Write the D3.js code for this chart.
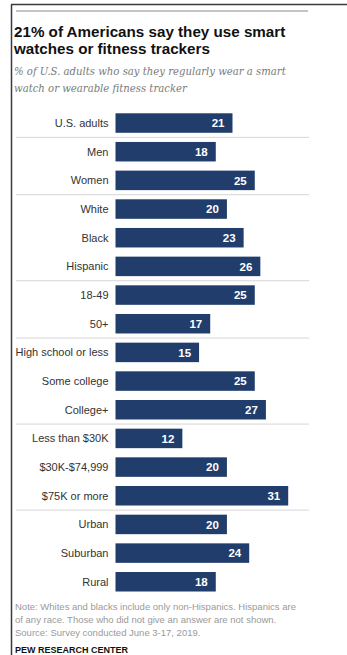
<!DOCTYPE html>
<html>
<head>
<meta charset="utf-8">
<script src="https://cdn.jsdelivr.net/npm/d3@7"></script>
<style>
  html, body { margin: 0; padding: 0; background: #fff; }
  svg { display: block; }
</style>
</head>
<body>
<div id="chart"></div>
<script>
const categories = ['U.S. adults', 'Men', 'Women', 'White', 'Black', 'Hispanic', '18-49', '50+',
  'High school or less', 'Some college', 'College+', 'Less than $30K', '$30K-$74,999',
  '$75K or more', 'Urban', 'Suburban', 'Rural'];
const values = [21, 18, 25, 20, 23, 26, 25, 17, 15, 25, 27, 12, 20, 31, 20, 24, 18];
// a thin rule is drawn above each of these
const groupStarts = ['Men', 'White', '18-49', 'High school or less', 'Less than $30K', 'Urban'];

const titleLines = ['21% of Americans say they use smart', 'watches or fitness trackers'];
const subtitleLines = ['% of U.S. adults who say they regularly wear a smart',
  'watch or wearable fitness tracker'];
const noteLines = ['Note: Whites and blacks include only non-Hispanics. Hispanics are',
  'of any race. Those who did not give an answer are not shown.',
  'Source: Survey conducted June 3-17, 2019.'];

const width = 347, height = 655;
const svg = d3.select('#chart').append('svg')
  .attr('width', width)
  .attr('height', height);

// frame
svg.append('line').attr('x1', 11.5).attr('x2', 11.5).attr('y1', 4.5).attr('y2', height)
  .attr('stroke', '#3a3a40').attr('stroke-width', 1.5);
svg.append('line').attr('x1', 11).attr('x2', width).attr('y1', 4.5).attr('y2', 4.5)
  .attr('stroke', '#3a3a40').attr('stroke-width', 1.5);
svg.append('line').attr('x1', 16).attr('x2', 308).attr('y1', 11).attr('y2', 11)
  .attr('stroke', '#8a8a8a').attr('stroke-width', 1);

svg.append('g').selectAll('text')
  .data(titleLines)
  .enter().append('text')
  .attr('x', 14)
  .attr('y', (d, i) => 37 + i * 17)
  .attr('font-family', 'Liberation Sans, Arial, sans-serif')
  .attr('font-weight', 'bold')
  .attr('font-size', 15.2)
  .attr('fill', '#111')
  .text(d => d);

svg.append('g').selectAll('text')
  .data(subtitleLines)
  .enter().append('text')
  .attr('x', 14)
  .attr('y', (d, i) => 75 + i * 17)
  .attr('font-family', 'DejaVu Serif, Georgia, serif')
  .attr('font-style', 'italic')
  .attr('font-size', 10.1)
  .attr('fill', '#7a7a7a')
  .text(d => d);

const y = d3.scaleBand()
  .domain(categories)
  .range([108.7, 596.1])
  .paddingInner(0.32)
  .paddingOuter(0.16);

const x = d3.scaleLinear()
  .domain([0, 31])
  .range([115.5, 288.2]);

const step = y.step();
svg.append('g').selectAll('line')
  .data(groupStarts)
  .enter().append('line')
  .attr('x1', 16).attr('x2', 309)
  .attr('y1', d => y(d) - step * 0.16)
  .attr('y2', d => y(d) - step * 0.16)
  .attr('stroke', '#d6d6d6')
  .attr('stroke-width', 1);

const rows = categories.map((c, i) => ({cat: c, val: values[i]}));

svg.append('g').selectAll('rect')
  .data(rows)
  .enter().append('rect')
  .attr('x', x(0))
  .attr('y', d => y(d.cat))
  .attr('width', d => x(d.val) - x(0))
  .attr('height', y.bandwidth())
  .attr('fill', '#213d6b');

svg.append('g').selectAll('text')
  .data(rows)
  .enter().append('text')
  .attr('x', d => x(d.val) - 8)
  .attr('y', d => y(d.cat) + y.bandwidth() / 2)
  .attr('dy', '0.36em')
  .attr('text-anchor', 'end')
  .attr('font-family', 'Liberation Sans, Arial, sans-serif')
  .attr('font-weight', 'bold')
  .attr('font-size', 11.5)
  .attr('fill', '#fff')
  .text(d => d.val);

svg.append('g').selectAll('text')
  .data(rows)
  .enter().append('text')
  .attr('x', 108.5)
  .attr('y', d => y(d.cat) + y.bandwidth() / 2)
  .attr('dy', '0.36em')
  .attr('text-anchor', 'end')
  .attr('font-family', 'Liberation Sans, Arial, sans-serif')
  .attr('font-size', 11)
  .attr('fill', '#333')
  .text(d => d.cat);

svg.append('g').selectAll('text')
  .data(noteLines)
  .enter().append('text')
  .attr('x', 15)
  .attr('y', (d, i) => 609.5 + i * 13.3)
  .attr('font-family', 'Liberation Sans, Arial, sans-serif')
  .attr('font-size', 9.5)
  .attr('fill', '#9a9a9a')
  .text(d => d);

svg.append('text')
  .attr('x', 15)
  .attr('y', 652.5)
  .attr('font-family', 'Liberation Sans, Arial, sans-serif')
  .attr('font-weight', 'bold')
  .attr('font-size', 9)
  .attr('fill', '#111')
  .text('PEW RESEARCH CENTER');
</script>
</body>
</html>
